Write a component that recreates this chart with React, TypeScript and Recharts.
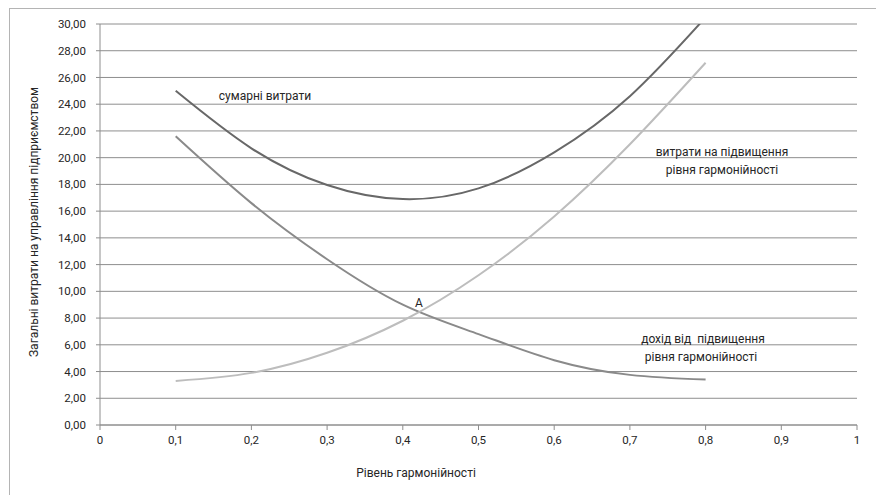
import React from 'react';
import { LineChart, Line, XAxis, YAxis, CartesianGrid } from 'recharts';

const harmonyLevels = [0.1, 0.2, 0.3, 0.4, 0.5, 0.6, 0.7, 0.8];
const totalCosts = [25.0, 20.7, 17.95, 16.9, 17.7, 20.4, 24.6, 30.5];
const improvementCosts = [3.3, 3.9, 5.4, 7.8, 11.2, 15.6, 21.0, 27.1];
const improvementIncome = [21.6, 16.6, 12.4, 9.0, 6.8, 4.85, 3.75, 3.4];

const xTicks = [0, 0.1, 0.2, 0.3, 0.4, 0.5, 0.6, 0.7, 0.8, 0.9, 1];
const yTicks = [0, 2, 4, 6, 8, 10, 12, 14, 16, 18, 20, 22, 24, 26, 28, 30];

const data = harmonyLevels.map((x, i) => ({
  x,
  total: totalCosts[i],
  costs: improvementCosts[i],
  income: improvementIncome[i],
}));

const FONT = 'Roboto, "Noto Sans", sans-serif';
const TEXT = '#262626';

const Note = ({ x, y, children }: { x: number; y: number; children: React.ReactNode }) => (
  <div
    style={{
      position: 'absolute',
      left: x,
      top: y,
      transform: 'translate(-50%, -50%)',
      whiteSpace: 'pre',
      fontFamily: FONT,
      fontSize: 12,
      color: TEXT,
      lineHeight: 1,
    }}
  >
    {children}
  </div>
);

const fmtX = (v: number) => (v === 0 || v === 1 ? String(v) : String(v).replace('.', ','));
const fmtY = (v: number) => v.toFixed(2).replace('.', ',');

export default function App() {
  return (
    <div style={{ position: 'absolute', left: 0, top: 0, width: 876, height: 495, background: '#fff', overflow: 'hidden' }}>
      {/* frame of the embedded chart */}
      <div style={{ position: 'absolute', left: 9, top: 8, right: 0, bottom: -2, borderLeft: '1px solid #b4b4b4', borderTop: '1px solid #b4b4b4' }} />
      <LineChart
        width={876}
        height={495}
        data={data}
        margin={{ top: 24, right: 19, bottom: 40, left: 40 }}
        style={{ position: 'absolute', left: 0, top: 0 }}
      >
        <CartesianGrid horizontal vertical={false} stroke="#8e8e8e" strokeWidth={1} />
        <XAxis
          dataKey="x"
          type="number"
          domain={[0, 1]}
          ticks={xTicks}
          tickFormatter={fmtX}
          height={30}
          stroke="#8e8e8e"
          tickSize={5}
          tickMargin={6}
          tick={{ fill: TEXT, fontSize: 11.5, fontFamily: FONT }}
        />
        <YAxis
          type="number"
          domain={[0, 30]}
          ticks={yTicks}
          allowDataOverflow
          tickFormatter={fmtY}
          width={60}
          stroke="#8e8e8e"
          tickSize={4}
          tickMargin={10}
          tick={{ fill: TEXT, fontSize: 11.5, fontFamily: FONT }}
        />
        <Line type="natural" dataKey="total" stroke="#686868" strokeWidth={2} dot={false} isAnimationActive={false} />
        <Line type="natural" dataKey="income" stroke="#8a8a8a" strokeWidth={2} dot={false} isAnimationActive={false} />
        <Line type="natural" dataKey="costs" stroke="#bdbdbd" strokeWidth={2} dot={false} isAnimationActive={false} />
      </LineChart>

      <div
        style={{
          position: 'absolute',
          left: 34,
          top: 222,
          transform: 'translate(-50%, -50%) rotate(-90deg)',
          whiteSpace: 'nowrap',
          fontFamily: FONT,
          fontSize: 12,
          color: TEXT,
        }}
      >
        Загальні витрати на управління підприємством
      </div>

      <Note x={265} y={96}>сумарні витрати</Note>
      <Note x={722} y={152}>витрати на підвищення</Note>
      <Note x={722} y={170}>рівня гармонійності</Note>
      <Note x={419} y={303}>A</Note>
      <Note x={703} y={339}>дохід від  підвищення</Note>
      <Note x={701} y={357}>рівня гармонійності</Note>
      <Note x={416} y={473}>Рівень гармонійності</Note>
    </div>
  );
}
